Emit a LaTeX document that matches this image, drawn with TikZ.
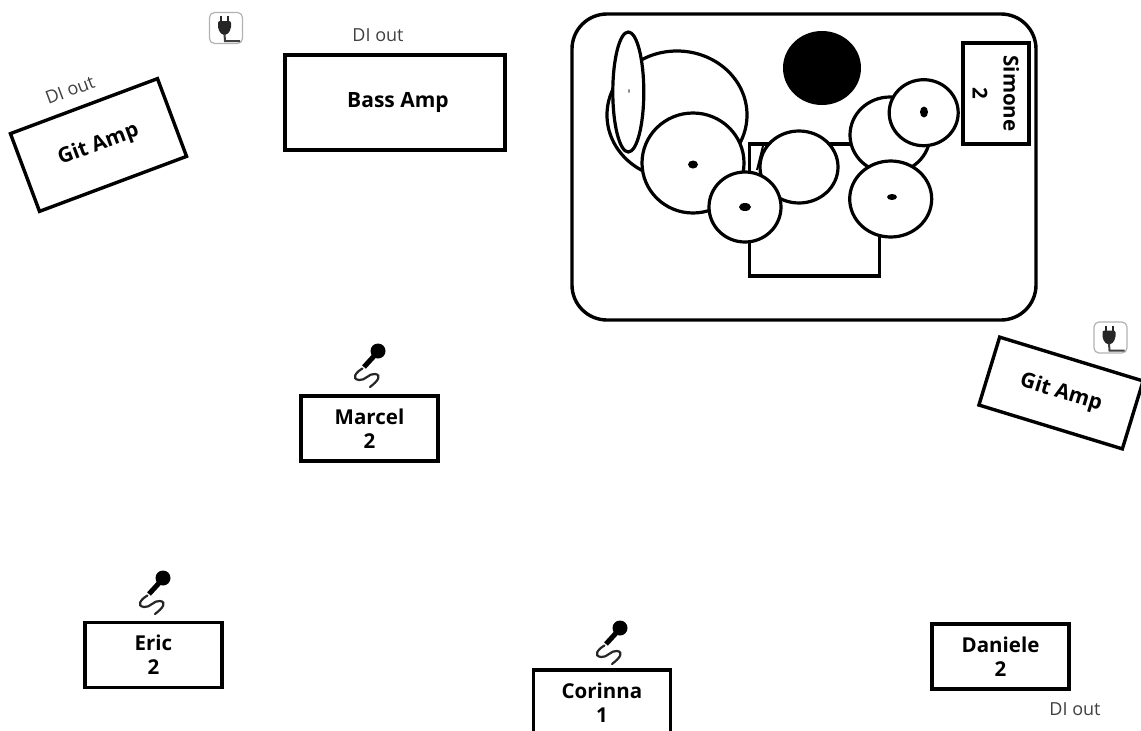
\documentclass[tikz,border=0pt]{standalone}
\usepackage{fontspec}
\setmainfont{Open Sans}
\tikzset{
  drumpart/.style={draw=black,fill=white,line width=3.2pt},
  ampbox/.style={draw=black,fill=white,line width=3.4pt,inner sep=0pt,font=\fontsize{21}{24}\selectfont\bfseries},
  playerbox/.style={draw=black,fill=white,line width=3.4pt,inner sep=0pt,minimum width=137,minimum height=65,align=center,font=\fontsize{20.5}{24}\selectfont\bfseries},
  ditext/.style={font=\fontsize{18}{20}\selectfont,text=black!75,inner sep=0pt},
  micicon/.pic={
    \fill[black] (0,0) circle (7.5);
    \draw[black,line width=5pt] (-3,4) -- (-14,16);
    \draw[black!85,line width=2.2pt,line cap=round] (-15.5,17.5) .. controls (-22,21) and (-27,28) .. (-19,29)
      .. controls (-13,30) and (-9,22) .. (-3,23) .. controls (4,24) and (0,30) .. (-8,36);
  },
  plugicon/.pic={
    \draw[black!30,line width=1.2pt,rounded corners=5] (-16.5,-15.5) rectangle (16.5,15.5);
    \fill[black!85,rounded corners=2] (-8,-7) -- (5,-7) -- (5,1) -- (1,7) -- (-4,7) -- (-8,1) -- cycle;
    \draw[black!85,line width=2pt] (-5,-12) -- (-5,-7) (2,-12) -- (2,-7);
    \draw[black!75,line width=2pt] (-1.5,6) -- (-1,13) -- (14,13);
  }
}
\begin{document}
\begin{tikzpicture}[x=1pt,y=-1pt]
  \useasboundingbox (0,0) rectangle (1141,731);
  \clip (0,0) rectangle (1141,731);
  % drum riser
  \draw[black,line width=3.4pt,rounded corners=35] (572,14) rectangle (1036,320);
  \fill[black] (822,68) ellipse (39 and 37);
  \draw[drumpart] (677,115) ellipse (70 and 64);
  \draw[drumpart] (628.3,92) ellipse (15.5 and 60);
  \fill[black!45] (629,91) ellipse (1 and 2);
  \draw[drumpart] (749.5,144) rectangle (879.5,276);
  \draw[black,line width=2pt] (763,146) -- (757,170);
  \draw[drumpart] (693,163) ellipse (51 and 50);
  \draw[drumpart] (799,167) ellipse (39 and 36);
  \draw[drumpart] (745,207) ellipse (36 and 35);
  \draw[drumpart] (890,135) ellipse (40 and 38);
  \draw[drumpart] (890.7,199) ellipse (41 and 38);
  \draw[drumpart] (923.7,112.7) ellipse (34.5 and 33);
  \foreach \x/\y/\a/\b in {693/164.5/5/4,745/207/6/4,924/112/4/5.5,892/197/5/3}
  {
    \fill[black] (\x,\y) ellipse [x radius=\a,y radius=\b];
  }
  % players
  \node[playerbox,rotate=-90,minimum width=101,minimum height=66,font=\fontsize{20.5}{31}\selectfont\bfseries] (simone) at (996,93.5) {Simone\\2};
  \foreach \nm/\x/\y/\txt/\num in {marcel/369.5/428.5/Marcel/2,eric/153.5/655/Eric/2,daniele/1000.5/656.5/Daniele/2,corinna/602/702.5/Corinna/1}
  {
    \node[playerbox] (\nm) at (\x,\y) {\txt\\\num};
  }
  % amps
  \node[ampbox,minimum width=220,minimum height=95] (bassamp) at (395,102.5) {\hspace*{6pt}Bass Amp};
  \node[ampbox,rotate=20.5,minimum width=157,minimum height=83] (gitampl) at (98.5,145) {Git Amp};
  \node[ampbox,rotate=-17,minimum width=150,minimum height=71] (gitampr) at (1061,393) {Git Amp};
  \node[ditext] (dibass) at (378,35) {DI out};
  \node[ditext,rotate=20.5] (digit) at (70,90) {DI out};
  \node[ditext] (didaniele) at (1075,709) {DI out};
  % icons
  \foreach \x/\y in {378/351,163/578,620/628}
  {
    \pic at (\x,\y) {micicon};
  }
  \foreach \x/\y in {226/28,1110.5/337.5}
  {
    \pic at (\x,\y) {plugicon};
  }
\end{tikzpicture}
\end{document}
